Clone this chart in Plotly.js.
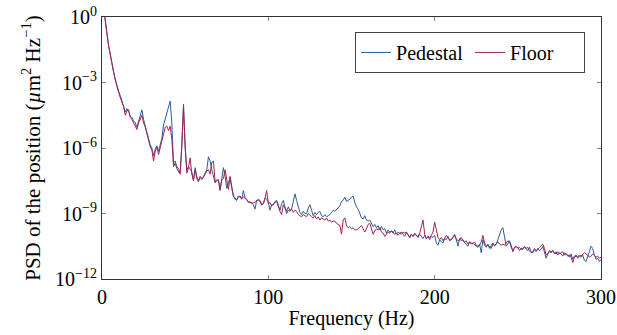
<!DOCTYPE html>
<html>
<head>
<meta charset="utf-8">
<script src="https://cdn.plot.ly/plotly-3.0.1.min.js"></script>
<style>html,body{margin:0;padding:0;background:#fff;}#chart{width:617px;height:335px;}</style>
</head>
<body>
<div id="chart"></div>
<script>
// Frequency axis (Hz), one sample per Hz
const frequencyHz = Array.from({length: 301}, (_, i) => i);

// log10 of PSD (µm^2 Hz^-1)
const pedestalLog10 = [
  1.0, 0.35, -0.15, -0.75, -1.3, -1.75, -2.15, -2.5, -2.85, -3.2,
  -3.4, -3.6, -3.85, -4.0, -4.35, -4.2, -4.3, -4.55, -4.6, -4.75,
  -4.85, -5.05, -4.75, -4.55, -4.25, -4.7, -5.0, -5.3, -5.6, -5.85,
  -6.0, -6.35, -6.05, -5.9, -6.15, -5.8, -5.55, -4.95, -4.65, -4.45,
  -4.15, -3.85, -4.9, -6.7, -6.6, -6.85, -6.95, -7.15, -5.9, -4.15,
  -5.9, -7.0, -6.85, -6.95, -7.1, -7.45, -6.9, -7.3, -7.5, -7.35,
  -7.45, -7.3, -7.15, -7.0, -6.4, -6.6, -7.0, -7.25, -7.6, -7.5,
  -7.45, -7.95, -7.5, -6.9, -7.3, -7.85, -7.6, -7.35, -7.85, -8.2,
  -8.35, -8.4, -8.2, -8.25, -8.35, -7.95, -8.3, -8.4, -8.45, -8.5,
  -8.5, -8.6, -8.8, -8.4, -8.35, -8.4, -8.6, -8.55, -8.3, -8.35,
  -8.5, -8.85, -8.6, -8.6, -8.45, -8.4, -8.6, -8.85, -8.55, -8.4,
  -8.7, -9.0, -8.85, -8.9, -8.8, -8.5, -8.1, -8.4, -8.75, -8.95,
  -9.05, -8.9, -9.0, -9.0, -8.75, -8.6, -8.85, -9.1, -8.95, -9.05,
  -8.95, -8.9, -9.1, -9.15, -9.05, -9.15, -9.1, -9.05, -8.95, -8.85,
  -8.9, -8.8, -8.7, -8.65, -8.45, -8.4, -8.25, -8.45, -8.4, -8.35,
  -8.25, -8.2, -8.5, -8.7, -8.8, -9.05, -9.2, -9.25, -9.1, -9.3,
  -9.35, -9.3, -9.45, -9.6, -9.5, -9.65, -9.55, -9.75, -9.6, -9.75,
  -9.7, -9.9, -9.75, -9.85, -9.8, -9.9, -9.75, -9.95, -9.85, -9.9,
  -9.85, -9.95, -10.05, -9.85, -9.95, -10.1, -9.95, -10.05, -9.9, -10.0,
  -10.1, -9.95, -10.05, -10.15, -10.0, -10.15, -10.05, -10.2, -10.05, -10.1,
  -10.0, -10.35, -10.45, -10.2, -10.3, -10.35, -10.15, -10.2, -10.05, -10.25,
  -10.2, -10.1, -9.95, -10.2, -10.5, -10.15, -10.25, -10.2, -10.35, -10.4,
  -10.5, -10.3, -10.4, -10.35, -10.45, -10.5, -10.55, -10.4, -10.8, -10.2,
  -10.45, -10.55, -10.4, -10.6, -10.45, -10.35, -10.5, -10.4, -10.2, -10.0,
  -9.75, -9.65, -10.2, -10.5, -10.4, -10.25, -10.55, -10.7, -10.6, -10.5,
  -10.55, -10.7, -10.6, -10.65, -10.5, -10.6, -10.7, -10.55, -10.75, -10.8,
  -10.65, -10.75, -10.6, -10.7, -10.65, -10.5, -10.8, -11.05, -10.85, -10.75,
  -10.8, -10.7, -10.85, -10.75, -10.9, -10.8, -10.85, -10.95, -10.8, -10.85,
  -10.9, -11.0, -10.85, -11.1, -10.95, -10.9, -11.05, -10.95, -11.0, -10.9,
  -11.15, -11.2, -11.0, -10.75, -10.5, -10.6, -10.9, -11.1, -11.05, -11.2,
  -11.1
];

const floorLog10 = [
  1.0, 0.3, -0.2, -0.8, -1.35, -1.8, -2.2, -2.55, -2.9, -3.25,
  -3.45, -3.7, -3.9, -4.1, -4.5, -4.3, -4.25, -4.6, -4.7, -4.85,
  -4.95, -5.15, -4.85, -4.7, -4.5, -4.85, -5.05, -5.35, -5.7, -5.95,
  -6.1, -6.6, -6.15, -5.95, -6.3, -5.95, -5.7, -5.4, -5.05, -5.0,
  -5.2, -5.0, -5.6, -6.85, -6.7, -6.95, -7.05, -7.2, -5.8, -4.0,
  -6.0, -7.15, -6.9, -6.45, -7.2, -7.5, -7.0, -7.4, -7.55, -7.3,
  -7.4, -7.35, -7.2, -7.05, -7.0, -7.2, -6.65, -6.6, -7.55, -7.45,
  -7.5, -7.9, -7.45, -7.4, -7.0, -7.45, -7.9, -7.3, -7.75, -8.2,
  -8.3, -8.35, -8.25, -8.2, -8.3, -8.25, -8.3, -8.35, -8.5, -8.45,
  -8.55, -8.5, -8.5, -8.4, -8.4, -8.45, -8.6, -8.55, -8.3, -7.95,
  -8.55, -8.5, -8.65, -8.55, -8.5, -8.45, -8.7, -8.9, -9.05, -8.6,
  -8.75, -8.9, -8.7, -8.85, -8.8, -8.95, -8.85, -8.9, -9.05, -9.1,
  -9.15, -9.05, -9.1, -9.15, -9.0, -9.1, -9.15, -9.2, -9.1, -9.25,
  -9.15, -9.3, -9.2, -9.25, -9.3, -9.2, -9.35, -9.3, -9.4, -9.35,
  -9.35, -9.45, -9.5, -9.55, -9.95, -9.3, -9.2, -9.55, -9.65, -9.6,
  -9.7, -9.65, -9.75, -9.75, -9.7, -9.6, -9.55, -9.7, -9.85, -9.7,
  -9.5, -9.45, -9.7, -9.95, -9.8, -9.7, -9.75, -9.65, -9.85, -9.9,
  -10.05, -9.95, -9.85, -9.9, -9.8, -9.85, -9.95, -9.9, -10.0, -9.9,
  -9.95, -9.85, -9.9, -9.85, -10.0, -10.1, -9.95, -10.05, -9.95, -10.0,
  -10.05, -9.9, -9.6, -9.3, -9.95, -10.15, -10.05, -10.1, -10.0, -9.85,
  -9.4, -9.75, -10.1, -10.2, -10.1, -10.25, -10.1, -10.0, -10.1, -10.2,
  -10.2, -10.1, -10.0, -10.15, -10.25, -10.2, -10.1, -10.25, -10.3, -10.25,
  -10.4, -10.3, -10.35, -10.4, -10.3, -10.45, -10.5, -10.45, -10.3, -10.0,
  -10.35, -10.5, -10.45, -10.55, -10.6, -10.4, -10.45, -10.4, -10.3, -10.4,
  -10.45, -10.4, -10.45, -10.35, -10.25, -10.3, -10.45, -10.75, -10.55, -10.5,
  -10.6, -10.55, -10.65, -10.6, -10.55, -10.6, -10.55, -10.7, -10.8, -10.75,
  -10.6, -10.7, -10.65, -10.55, -10.45, -10.4, -10.6, -10.9, -10.85, -10.7,
  -10.75, -10.7, -10.8, -10.85, -10.75, -10.85, -10.8, -10.75, -10.9, -10.85,
  -10.95, -10.9, -11.0, -11.25, -11.0, -10.95, -11.0, -10.9, -10.95, -10.85,
  -10.8, -10.85, -10.9, -11.0, -10.95, -10.85, -10.95, -11.0, -10.95, -11.05,
  -11.0
];

const seriesNames = ['Pedestal', 'Floor'];
const yTickVals = [1e-12, 1e-9, 1e-6, 1e-3, 1e0];
const yTickText = ['10<sup>−12</sup>', '10<sup>−9</sup>', '10<sup>−6</sup>', '10<sup>−3</sup>', '10<sup>0</sup>'];
const xTickVals = [0, 100, 200, 300];

const toPSD = arr => arr.map(v => Math.pow(10, v));

const FONT = 'Liberation Serif, Times New Roman, serif';
const FS = 20;

const traces = [
  {x: frequencyHz, y: toPSD(pedestalLog10), name: seriesNames[0], type: 'scatter', mode: 'lines',
   line: {color: '#2d5d9a', width: 1}},
  {x: frequencyHz, y: toPSD(floorLog10), name: seriesNames[1], type: 'scatter', mode: 'lines',
   line: {color: '#a3234f', width: 1}}
];

const layout = {
  width: 617, height: 335,
  margin: {l: 102, r: 16, t: 17, b: 56, pad: 0},
  paper_bgcolor: '#fff', plot_bgcolor: '#fff',
  font: {family: FONT, size: FS, color: '#000'},
  showlegend: true,
  legend: {
    orientation: 'h', x: 0.968, xanchor: 'right', y: 0.943, yanchor: 'top',
    bordercolor: '#444', borderwidth: 1, bgcolor: '#fff',
    font: {family: FONT, size: FS}, itemwidth: 30, tracegroupgap: 0,
    entrywidth: 69, entrywidthmode: 'pixels'
  },
  xaxis: {
    range: [0, 300], tickvals: xTickVals, ticks: 'inside', ticklen: 4, tickcolor: '#888',
    showline: true, linecolor: '#333', linewidth: 1, mirror: 'ticks', showgrid: false, zeroline: false,
    title: {text: 'Frequency (Hz)', font: {family: FONT, size: FS}, standoff: 3},
    tickfont: {family: FONT, size: FS}
  },
  yaxis: {
    type: 'log', range: [-12, 0], tickvals: yTickVals, ticktext: yTickText,
    ticks: 'inside', ticklen: 4, tickcolor: '#888',
    showline: true, linecolor: '#333', linewidth: 1, mirror: 'ticks', showgrid: false, zeroline: false,
    title: {text: 'PSD of the position (<i>µ</i>m<sup>2</sup> Hz<sup>−1</sup>)', font: {family: FONT, size: 21}, standoff: 8},
    tickfont: {family: FONT, size: FS}
  }
};

Plotly.newPlot('chart', traces, layout, {staticPlot: true, displayModeBar: false});
</script>
</body>
</html>
